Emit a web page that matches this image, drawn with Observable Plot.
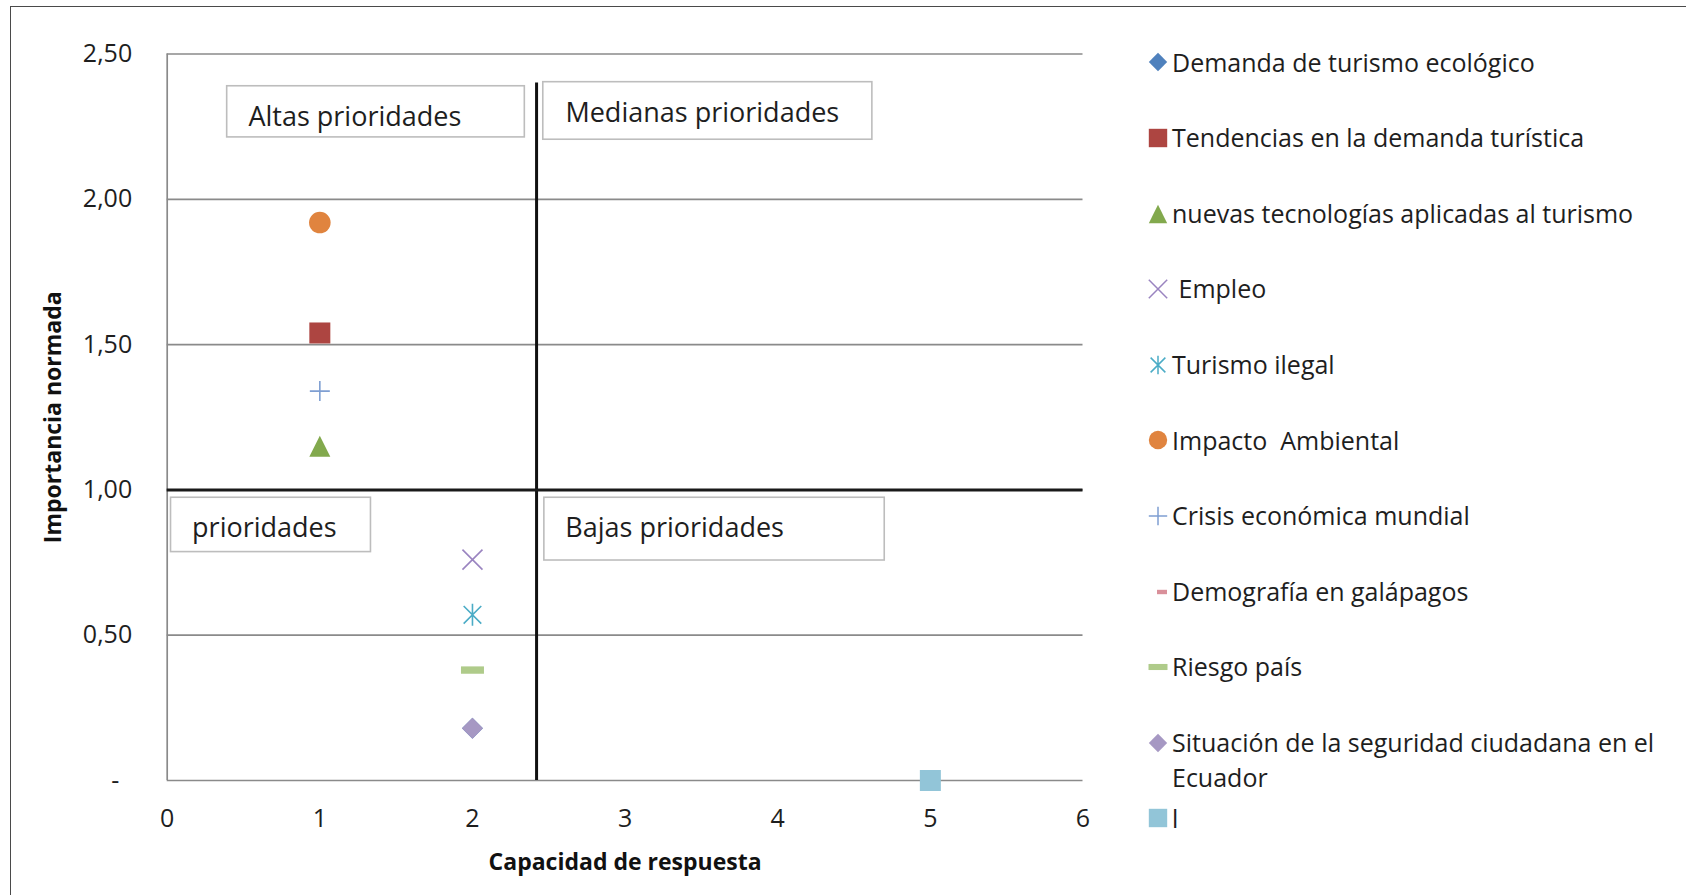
<!DOCTYPE html>
<html lang="es">
<head>
<meta charset="utf-8">
<title>Importancia normada vs capacidad de respuesta</title>
<script src="https://cdn.jsdelivr.net/npm/d3@7"></script>
<script src="https://cdn.jsdelivr.net/npm/@observablehq/plot@0.6"></script>
<style>
  html, body { margin: 0; padding: 0; background: #fff; }
  body { width: 1686px; height: 895px; position: relative; overflow: hidden; font-family: "Open Sans", sans-serif; }
  #border { position: absolute; left: 10px; top: 6px; width: 1720px; height: 940px;
            border-left: 1.5px solid #4a4a4a; border-top: 1.5px solid #4a4a4a; pointer-events: none; }
  #chart { position: absolute; left: 0; top: 0; }
  #legend { position: absolute; left: 1146px; top: 44.6px; width: 530px; color: #1e1e1e;
            font-size: 25px; line-height: 35.5px; }
  /* every entry keeps the same slot height, a wrapped second line spills into the gap */
  #legend .item { position: relative; padding-left: 26px; height: 75.6px; width: 497px; white-space: pre-wrap; }
  #legend svg { position: absolute; left: 0; top: 5.75px; }
</style>
</head>
<body>
<div id="chart"></div>
<div id="legend"></div>
<div id="border"></div>
<script>
// ---- data ----
const categorias = [
  "Demanda de turismo ecológico",
  "Tendencias en la demanda turística",
  "nuevas tecnologías aplicadas al turismo",
  " Empleo",
  "Turismo ilegal",
  "Impacto  Ambiental",
  "Crisis económica mundial",
  "Demografía en galápagos",
  "Riesgo país",
  "Situación de la seguridad ciudadana en el Ecuador",
  "l"
];
const capacidad   = [2, 1, 1, 2, 2, 1, 1, 2, 2, 2, 5];
const importancia = [0.18, 1.54, 1.15, 0.76, 0.57, 1.92, 1.34, 0.18, 0.38, 0.18, 0.00];

const xTicks = [0, 1, 2, 3, 4, 5, 6];
const yTicks = [0, 0.5, 1, 1.5, 2, 2.5];
// accounting-style labels: zero shows as a dash followed by padding
const yTickLabels = ["-\u00A0\u00A0", "0,50", "1,00", "1,50", "2,00", "2,50"];

const xTitle = "Capacidad de respuesta";
const yTitle = "Importancia normada";
const cuadrantes = ["Altas prioridades", "Medianas prioridades", "prioridades", "Bajas prioridades"];

// ---- presentation ----
const markerStyles = [
  {shape: "diamond",  color: "#4F81BD", r: 10.5},
  {shape: "square",   color: "#AD4541", r: 10.5},
  {shape: "triangle", color: "#82A94D", r: 10.5},
  {shape: "times",    color: "#9A84C0", r: 10},
  {shape: "asterisk", color: "#4BACC6", r: 11},
  {shape: "circle",   color: "#E0843F", r: 10.8},
  {shape: "plus",     color: "#7F9FD2", r: 10},
  {shape: "dash",     color: "#D9909A", r: 6},
  {shape: "dash",     color: "#AFCB8A", r: 11.5},
  {shape: "diamond",  color: "#A698C3", r: 10.5},
  {shape: "square",   color: "#92C5D8", r: 10.5}
];
const FILLED = new Set(["diamond", "square", "triangle", "circle", "dash"]);

// Threshold lines splitting the quadrants
const corteX = 2.42, corteXTop = 2.4, corteY = 1;

// Quadrant label boxes, in data units
const quadrantLayout = [
  {x1: 0.393, x2: 2.343, y1: 2.389, y2: 2.213, tx: 0.532, ty: 2.281},
  {x1: 2.464, x2: 4.620, y1: 2.403, y2: 2.205, tx: 2.609, ty: 2.295},
  {x1: 0.025, x2: 1.335, y1: 0.973, y2: 0.786, tx: 0.163, ty: 0.866},
  {x1: 2.471, x2: 4.701, y1: 0.973, y2: 0.757, tx: 2.608, ty: 0.866}
];

// Marker shapes drawn as symbol objects (half-size = sqrt(size / PI))
function makeSymbol(kind) {
  return {
    draw(ctx, size) {
      const h = Math.sqrt(size / Math.PI);
      switch (kind) {
        case "diamond":
          ctx.moveTo(0, -h); ctx.lineTo(h, 0); ctx.lineTo(0, h); ctx.lineTo(-h, 0); ctx.closePath(); break;
        case "square":
          ctx.moveTo(-h, -h); ctx.lineTo(h, -h); ctx.lineTo(h, h); ctx.lineTo(-h, h); ctx.closePath(); break;
        case "triangle":
          ctx.moveTo(0, -h); ctx.lineTo(h, h); ctx.lineTo(-h, h); ctx.closePath(); break;
        case "circle":
          ctx.moveTo(h, 0); ctx.arc(0, 0, h, 0, 2 * Math.PI); ctx.closePath(); break;
        case "dash": {
          const t = Math.max(2.2, h * 0.32);
          ctx.moveTo(-h, -t); ctx.lineTo(h, -t); ctx.lineTo(h, t); ctx.lineTo(-h, t); ctx.closePath(); break;
        }
        case "times":
          ctx.moveTo(-h, -h); ctx.lineTo(h, h); ctx.moveTo(h, -h); ctx.lineTo(-h, h); break;
        case "plus":
          ctx.moveTo(-h, 0); ctx.lineTo(h, 0); ctx.moveTo(0, -h); ctx.lineTo(0, h); break;
        case "asterisk": {
          const d = h * 0.8;
          ctx.moveTo(0, -h); ctx.lineTo(0, h);
          ctx.moveTo(-d, -d); ctx.lineTo(d, d);
          ctx.moveTo(d, -d); ctx.lineTo(-d, d); break;
        }
      }
    }
  };
}

const GRID = "#8a8a8a";
const TEXT = "#1e1e1e";

const seriesMarks = categorias.map((name, i) => {
  const st = markerStyles[i];
  const filled = FILLED.has(st.shape);
  return Plot.dot([i], {
    x: j => capacidad[j],
    y: j => importancia[j],
    r: st.r,
    symbol: makeSymbol(st.shape),
    fill: filled ? st.color : "none",
    stroke: filled ? "none" : st.color,
    strokeWidth: 1.6
  });
});

const chart = Plot.plot({
  width: 1686,
  height: 895,
  marginLeft: 166.7,
  marginRight: 603.5,
  marginTop: 53.5,
  marginBottom: 115,
  style: {fontFamily: '"Open Sans", sans-serif', fontSize: "25px", color: TEXT, background: "transparent", overflow: "visible"},
  x: {domain: [0, 6], ticks: xTicks, tickSize: 0, tickPadding: 29, label: null, tickFormat: d => String(d)},
  y: {domain: [0, 2.5], ticks: yTicks, tickSize: 0, tickPadding: 35, label: null,
      tickFormat: d => yTickLabels[yTicks.indexOf(d)]},
  marks: [
    Plot.ruleY(yTicks, {stroke: GRID, strokeWidth: 1.7}),
    Plot.ruleX([0], {stroke: GRID, strokeWidth: 1.7}),
    Plot.rect(quadrantLayout, {x1: "x1", x2: "x2", y1: "y1", y2: "y2", fill: "white", stroke: "#bdbdbd", strokeWidth: 1.6}),
    Plot.text(quadrantLayout, {x: "tx", y: "ty", text: (d, i) => cuadrantes[i], textAnchor: "start",
      fontSize: 27, fill: TEXT}),
    Plot.ruleX([corteX], {y1: 0, y2: corteXTop, stroke: "#111", strokeWidth: 3}),
    Plot.ruleY([corteY], {stroke: "#1a1a1a", strokeWidth: 3}),
    ...seriesMarks,
    Plot.text([yTitle], {frameAnchor: "left", dx: -113.7, rotate: -90, textAnchor: "middle",
      fontSize: 23, fontWeight: "bold", fill: "#111"}),
    Plot.text([xTitle], {frameAnchor: "bottom", dy: 89.5, textAnchor: "middle",
      fontSize: 23, fontWeight: "bold", fill: "#111"})
  ]
});
document.getElementById("chart").append(chart);

// ---- legend ----
const legend = d3.select("#legend");
categorias.forEach((name, i) => {
  const st = markerStyles[i];
  const filled = FILLED.has(st.shape);
  const item = legend.append("div").attr("class", "item");
  const svg = item.append("svg").attr("width", 24).attr("height", 24);
  const p = d3.path();
  const r = st.shape === "dash" ? (st.r < 8 ? 5 : 9.5) : 9.2;
  makeSymbol(st.shape).draw(p, Math.PI * r * r);
  svg.append("path")
    .attr("transform", `translate(${st.shape === "dash" && r < 8 ? 16 : 12},12)`)
    .attr("d", p.toString())
    .attr("fill", filled ? st.color : "none")
    .attr("stroke", filled ? "none" : st.color)
    .attr("stroke-width", 1.5);
  item.append("span").text(name);
});
</script>
</body>
</html>
